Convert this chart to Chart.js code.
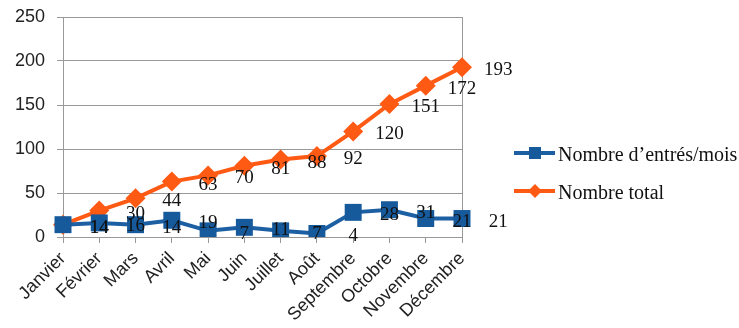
<!DOCTYPE html>
<html>
<head>
<meta charset="utf-8">
<script src="https://cdn.jsdelivr.net/npm/chart.js@4"></script>
<style>
  html, body { margin: 0; padding: 0; background: #fff; }
  #wrap { width: 739px; height: 328px; }
</style>
</head>
<body>
<div id="wrap"><canvas id="chart" width="739" height="328"></canvas></div>
<script>
// data
const months = ['Janvier', 'Février', 'Mars', 'Avril', 'Mai', 'Juin', 'Juillet', 'Août',
    'Septembre', 'Octobre', 'Novembre', 'Décembre'];
const entresParMois = [14, 16, 14, 19, 7, 11, 7, 4, 28, 31, 21, 21];
const nombreTotal = [14, 30, 44, 63, 70, 81, 88, 92, 120, 151, 172, 193];
const seriesNames = ['Nombre d\u2019entrés/mois', 'Nombre total'];
const yTicks = [0, 50, 100, 150, 200, 250];

const BLUE = '#1d5fa3';
const BLUE_MARK = '#175a9c';
const ORANGE = '#ff5a14';
const GRID = '#999999';

// value labels, drawn one category to the right (as in the original sheet)
const valueLabels = {
    id: 'valueLabels',
    afterDatasetsDraw(chart) {
        const ctx = chart.ctx;
        const x = chart.scales.x;
        const y = chart.scales.y;
        ctx.save();
        ctx.font = '19px "Liberation Serif", "Times New Roman", serif';
        ctx.fillStyle = '#111';
        ctx.textAlign = 'center';
        ctx.textBaseline = 'middle';
        chart.data.datasets.forEach((ds) => {
            ds.data.forEach((v, i) => {
                let px = x.getPixelForValue(i + 1);
                ctx.fillText(String(v), px, y.getPixelForValue(v) + 3);
            });
        });
        ctx.restore();
    }
};

// legend drawn on the right
const sideLegend = {
    id: 'sideLegend',
    afterDraw(chart) {
        const ctx = chart.ctx;
        const rows = [
            { name: seriesNames[0], color: BLUE, mark: BLUE_MARK, shape: 'rect', y: 153 },
            { name: seriesNames[1], color: ORANGE, mark: ORANGE, shape: 'diamond', y: 191 }
        ];
        ctx.save();
        rows.forEach((r) => {
            ctx.strokeStyle = r.color;
            ctx.lineWidth = 4;
            ctx.beginPath();
            ctx.moveTo(514, r.y);
            ctx.lineTo(555, r.y);
            ctx.stroke();
            ctx.fillStyle = r.mark;
            if (r.shape === 'rect') {
                ctx.fillRect(529, r.y - 6, 12, 12);
            } else {
                ctx.beginPath();
                ctx.moveTo(535, r.y - 7);
                ctx.lineTo(542, r.y);
                ctx.lineTo(535, r.y + 7);
                ctx.lineTo(528, r.y);
                ctx.closePath();
                ctx.fill();
            }
            ctx.fillStyle = '#111';
            ctx.font = '20px "Liberation Serif", "Times New Roman", serif';
            ctx.textAlign = 'left';
            ctx.textBaseline = 'middle';
            ctx.fillText(r.name, 558, r.y + 3);
        });
        ctx.restore();
    }
};

new Chart(document.getElementById('chart'), {
    type: 'line',
    data: {
        labels: months,
        datasets: [
            {
                label: seriesNames[0],
                data: entresParMois,
                borderColor: BLUE,
                backgroundColor: BLUE_MARK,
                borderWidth: 4,
                pointStyle: 'rect',
                pointRadius: 12,
                pointBorderWidth: 0,
                tension: 0
            },
            {
                label: seriesNames[1],
                data: nombreTotal,
                borderColor: ORANGE,
                backgroundColor: ORANGE,
                borderWidth: 4,
                pointStyle: 'rectRot',
                pointRadius: 10,
                pointBorderWidth: 0,
                tension: 0
            }
        ]
    },
    options: {
        responsive: false,
        animation: false,
        layout: { padding: { top: 17, right: 277, left: 0, bottom: 0 } },
        plugins: {
            legend: { display: false },
            tooltip: { enabled: false }
        },
        scales: {
            x: {
                offset: false,
                afterFit: (s) => { s.height = 91; s.paddingLeft = 0; s.paddingRight = 0; },
                border: { color: GRID, width: 1 },
                grid: {
                    color: (c) => (c.index === months.length - 1 ? GRID : 'rgba(0,0,0,0)'),
                    tickColor: GRID,
                    tickLength: 6,
                    drawOnChartArea: true
                },
                ticks: {
                    autoSkip: false,
                    maxRotation: 45,
                    minRotation: 45,
                    padding: 5,
                    color: '#222',
                    font: { family: '"Liberation Sans", Arial, sans-serif', size: 18 }
                }
            },
            y: {
                min: 0,
                max: 250,
                afterFit: (s) => { s.width = 63; s.paddingTop = 0; s.paddingBottom = 0; },
                afterBuildTicks: (s) => { s.ticks = yTicks.map((v) => ({ value: v })); },
                border: { color: GRID, width: 1 },
                grid: { color: GRID, tickColor: GRID, tickLength: 6 },
                ticks: {
                    padding: 12,
                    color: '#222',
                    font: { family: '"Liberation Sans", Arial, sans-serif', size: 18 }
                }
            }
        }
    },
    plugins: [valueLabels, sideLegend]
});
</script>
</body>
</html>
